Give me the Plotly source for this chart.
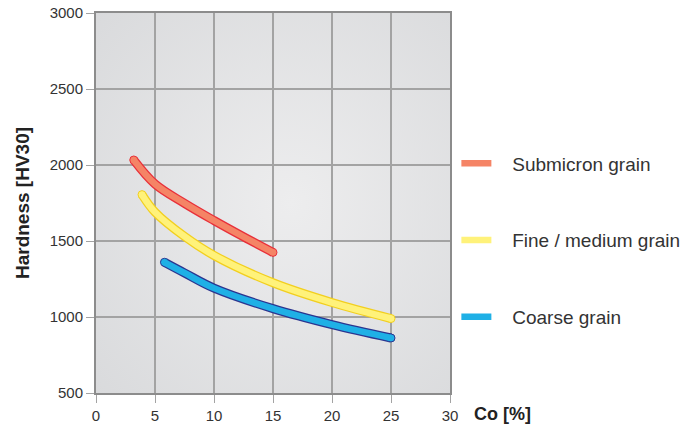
import plotly.graph_objects as go

# Data
sub_x = [3.2, 5, 7.5, 10, 12.5, 15]
sub_y = [2033, 1875, 1748, 1635, 1528, 1425]
fine_x = [3.9, 5, 7.5, 10, 15, 20, 25]
fine_y = [1805, 1690, 1530, 1405, 1225, 1095, 990]
coarse_x = [5.8, 7.5, 10, 15, 20, 25]
coarse_y = [1360, 1290, 1190, 1055, 950, 862]

x_ticks = [0, 5, 10, 15, 20, 25, 30]
y_ticks = [500, 1000, 1500, 2000, 2500, 3000]

series = [
    ("Submicron grain", sub_x, sub_y, "#f58466", "#e8303a"),
    ("Fine / medium grain", fine_x, fine_y, "#fff27a", "#f2cf1f"),
    ("Coarse grain", coarse_x, coarse_y, "#1fb0e6", "#2b3590"),
]

pad = "\u00a0" * 3

fig = go.Figure()
for name, xs, ys, fill, edge in series:
    fig.add_trace(go.Scatter(x=xs, y=ys, mode="lines", line=dict(color=edge, width=9, shape="spline"),
                             showlegend=False, hoverinfo="skip"))
    fig.add_trace(go.Scatter(x=[xs[0], xs[-1]], y=[ys[0], ys[-1]], mode="markers",
                             marker=dict(color=fill, size=8, line=dict(color=edge, width=1)),
                             showlegend=False, hoverinfo="skip"))
    fig.add_trace(go.Scatter(x=xs, y=ys, mode="lines", name=pad + name, legendgroup=name,
                             line=dict(color=fill, width=6.5, shape="spline")))

svg = ("data:image/svg+xml;utf8,<svg xmlns='http://www.w3.org/2000/svg' width='100' height='100' preserveAspectRatio='none'>"
       "<defs><radialGradient id='g' cx='0.55' cy='0.5' r='0.75'>"
       "<stop offset='0' stop-color='%23ededee'/><stop offset='1' stop-color='%23d9dadc'/>"
       "</radialGradient></defs><rect width='100' height='100' fill='url(%23g)'/></svg>")

fig.update_layout(
    width=692, height=427,
    margin=dict(l=96, r=242, t=13, b=34, autoexpand=False),
    paper_bgcolor="white",
    plot_bgcolor="#e4e5e7",
    font=dict(family="Liberation Sans, Arial, sans-serif", size=15, color="#333333"),
    images=[dict(source=svg, xref="paper", yref="paper", x=0, y=1, sizex=1, sizey=1,
                 sizing="stretch", layer="below")],
    legend=dict(x=1.018, y=0.654, xanchor="left", yanchor="top", tracegroupgap=49,
                font=dict(size=19, color="#333333"), bgcolor="rgba(0,0,0,0)", itemwidth=30),
    showlegend=True,
    annotations=[dict(text="<b>Co [%]</b>", xref="paper", yref="paper", x=1.062, y=-0.025,
                      xanchor="left", yanchor="top", showarrow=False,
                      font=dict(size=18, color="#222222"))],
)
fig.update_xaxes(range=[0, 30], tickvals=x_ticks, showgrid=True, gridcolor="#a3a3a3", gridwidth=2,
                 showline=True, linecolor="#8c8c8c", linewidth=2, mirror=True, automargin=False,
                 ticks="outside", ticklen=8, tickcolor="#a3a3a3", tickwidth=1, zeroline=False)
fig.update_yaxes(range=[500, 3000], tickvals=y_ticks, showgrid=True, gridcolor="#a3a3a3", gridwidth=2,
                 showline=True, linecolor="#8c8c8c", linewidth=2, mirror=True, automargin=False,
                 ticks="outside", ticklen=8, tickcolor="#a3a3a3", tickwidth=1, zeroline=False,
                 title=dict(text="<b>Hardness [HV30]</b>", font=dict(size=19, color="#222222"), standoff=15))

fig.write_html("out.html", config={"displayModeBar": False},
               post_script="document.body.style.margin='0';document.body.style.overflow='hidden';")
